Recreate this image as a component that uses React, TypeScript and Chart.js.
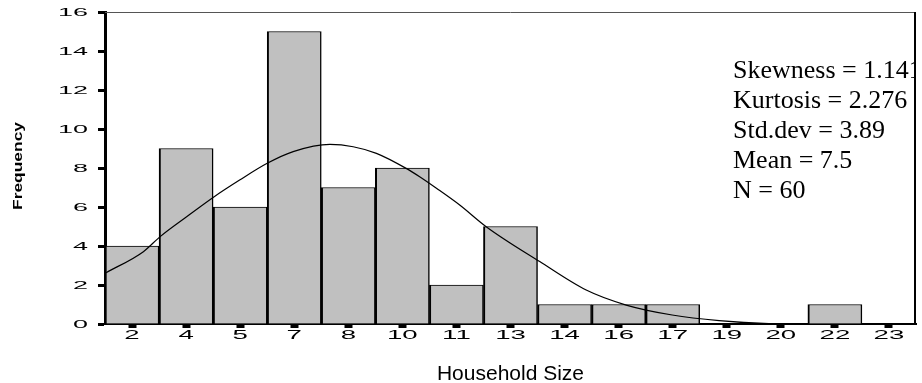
import React, { useEffect, useRef } from "react";
import { Chart, registerables } from "chart.js";

Chart.register(...registerables);

const categories = ["2", "4", "5", "7", "8", "10", "11", "13", "14", "16", "17", "19", "20", "22", "23"];
const frequencies = [4, 9, 6, 15, 7, 8, 2, 5, 1, 1, 1, 0, 0, 1, 0];
// normal curve: position in bin-index units, height in frequency
const curveX = [-0.48, 0.21, 0.52, 1.01, 1.5, 1.99, 2.5, 2.98, 3.66, 4.09, 4.52, 5.07, 5.32, 5.63, 6.06, 6.55, 7.54, 8.4, 9.14, 9.99, 10.86, 11.78, 12.5];
const curveY = [2.63, 3.71, 4.48, 5.5, 6.49, 7.38, 8.24, 8.84, 9.21, 9.09, 8.75, 7.98, 7.55, 6.96, 6.1, 4.99, 3.2, 1.74, 0.97, 0.46, 0.17, 0.02, 0.0];
const statLines = ["Skewness = 1.141", "Kurtosis = 2.276", "Std.dev = 3.89", "Mean = 7.5", "N = 60"];
const xTitle = "Household Size";
const yTitle = "Frequency";

const SANS = '"Liberation Sans", Arial, sans-serif';
const SERIF = '"Liberation Serif", "Times New Roman", serif';

function drawStretched(ctx: CanvasRenderingContext2D, text: string, x: number, y: number, align: CanvasTextAlign, sx: number, font: string) {
  ctx.save();
  ctx.translate(x, y);
  ctx.scale(sx, 1);
  ctx.font = font;
  ctx.fillStyle = "#000";
  ctx.textAlign = align;
  ctx.textBaseline = "middle";
  ctx.fillText(text, 0, 0);
  ctx.restore();
}

const decorPlugin = {
  id: "decor",
  afterDraw(chart: any) {
    const ctx: CanvasRenderingContext2D = chart.ctx;
    const { left, right, top, bottom } = chart.chartArea;
    ctx.save();
    // frame: top thin, right thick
    ctx.strokeStyle = "#555";
    ctx.lineWidth = 1;
    ctx.beginPath();
    ctx.moveTo(left, top + 0.5);
    ctx.lineTo(right, top + 0.5);
    ctx.stroke();
    ctx.strokeStyle = "#000";
    ctx.lineWidth = 2;
    ctx.beginPath();
    ctx.moveTo(right - 1, top);
    ctx.lineTo(right - 1, bottom);
    ctx.stroke();

    // y tick labels
    const ys = chart.scales.y;
    ys.ticks.forEach((t: any, i: number) => {
      const py = ys.getPixelForTick(i);
      drawStretched(ctx, String(t.value), 88, py + 0.5, "right", 2.45, `11px ${SANS}`);
    });
    // x tick labels
    const xs = chart.scales.x;
    xs.ticks.forEach((t: any, i: number) => {
      const px = xs.getPixelForTick(i);
      const lab = categories[t.value];
      if (lab !== undefined) drawStretched(ctx, lab, px, 336, "center", 2.3, `12px ${SANS}`);
    });

    // stats text, clipped to the plot area
    ctx.save();
    ctx.beginPath();
    ctx.rect(left, top, right - 1 - left, bottom - top);
    ctx.clip();
    ctx.font = `26px ${SERIF}`;
    ctx.fillStyle = "#000";
    ctx.textAlign = "left";
    ctx.textBaseline = "alphabetic";
    statLines.forEach((s, i) => ctx.fillText(s, 733, 78 + i * 30));
    ctx.restore();

    // x title
    ctx.save();
    ctx.font = `20px ${SANS}`;
    ctx.fillStyle = "#000";
    ctx.textAlign = "center";
    ctx.textBaseline = "alphabetic";
    ctx.translate((left + right) / 2, 380);
    ctx.scale(1.05, 1);
    ctx.fillText(xTitle, 0, 0);
    ctx.restore();

    // y title
    ctx.save();
    ctx.translate(19, 166);
    ctx.rotate(-Math.PI / 2);
    ctx.scale(1.45, 1);
    ctx.font = `bold 12px ${SANS}`;
    ctx.fillStyle = "#000";
    ctx.textAlign = "center";
    ctx.textBaseline = "middle";
    ctx.fillText(yTitle, 0, 0);
    ctx.restore();

    ctx.restore();
  },
};

export default function App() {
  const ref = useRef<HTMLCanvasElement | null>(null);
  useEffect(() => {
    if (!ref.current) return;
    const chart = new Chart(ref.current, {
      type: "bar",
      data: {
        datasets: [
          {
            type: "bar",
            data: frequencies.map((v, i) => ({ x: i, y: v })),
            backgroundColor: "#c0c0c0",
            borderColor: "#000",
            borderWidth: { top: 1, left: 2, right: 1.5, bottom: 0 },
            borderSkipped: false,
            barPercentage: 1,
            categoryPercentage: 1,
            grouped: false,
            order: 1,
          } as any,
          {
            type: "line",
            data: curveX.map((x, i) => ({ x, y: curveY[i] })),
            borderColor: "#000",
            borderWidth: 1.2,
            pointRadius: 0,
            fill: false,
            cubicInterpolationMode: "monotone",
            order: 0,
          } as any,
        ],
      },
      options: {
        animation: false,
        responsive: true,
        maintainAspectRatio: false,
        layout: { padding: { top: 12, right: 6, left: 0, bottom: 0 } },
        plugins: { legend: { display: false }, tooltip: { enabled: false }, title: { display: false } },
        scales: {
          x: {
            type: "linear",
            min: -0.5,
            max: 14.5,
            offset: false,
            ticks: { display: false },
            afterBuildTicks: (s: any) => { s.ticks = categories.map((_, i) => ({ value: i })); },
            grid: { display: true, drawOnChartArea: false, offset: false, tickLength: 4, tickWidth: 8, color: "#000" },
            border: { display: true, color: "#000", width: 2 },
            afterFit: (s: any) => { s.height = 59; },
          },
          y: {
            min: 0,
            max: 16,
            ticks: { display: false, stepSize: 2 },
            grid: { display: true, drawOnChartArea: false, tickLength: 7, tickWidth: 3, color: "#000" },
            border: { display: true, color: "#000", width: 3 },
            afterFit: (s: any) => { s.width = 105; },
          },
        },
      } as any,
      plugins: [decorPlugin],
    });
    return () => chart.destroy();
  }, []);
  return (
    <div style={{ position: "absolute", left: 0, top: 0, width: 922, height: 383, background: "#fff" }}>
      <canvas ref={ref} />
    </div>
  );
}
